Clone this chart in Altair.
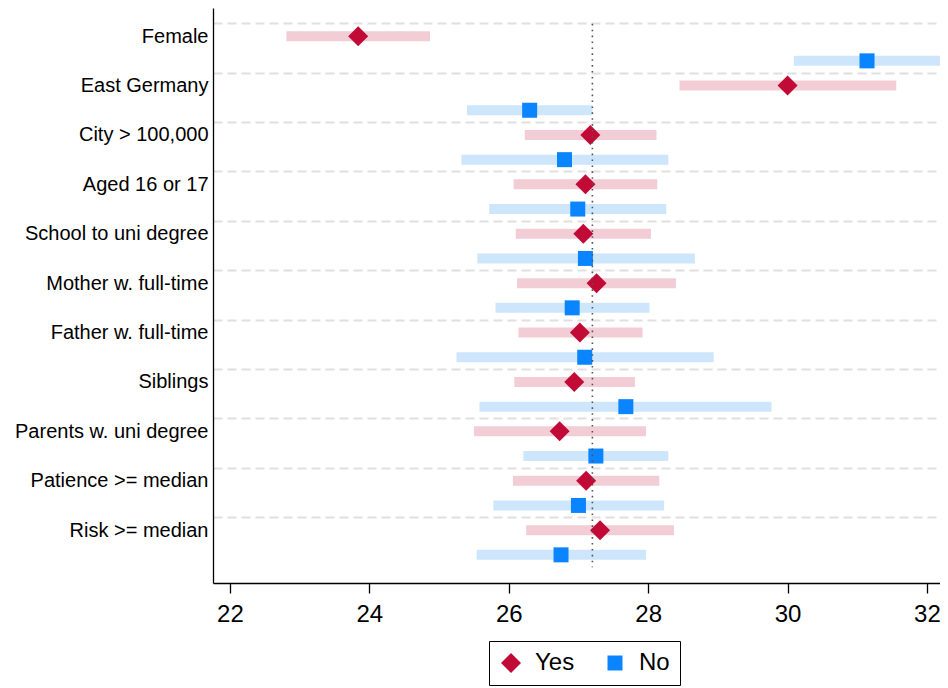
import altair as alt
import pandas as pd

categories = ["Female", "East Germany", "City > 100,000", "Aged 16 or 17",
              "School to uni degree", "Mother w. full-time", "Father w. full-time",
              "Siblings", "Parents w. uni degree", "Patience >= median", "Risk >= median"]
yes_est = [23.84, 30.00, 27.17, 27.10, 27.07, 27.26, 27.02, 26.94, 26.73, 27.11, 27.31]
yes_lo = [22.81, 28.45, 26.23, 26.07, 26.10, 26.12, 26.14, 26.08, 25.50, 26.06, 26.25]
yes_hi = [24.87, 31.56, 28.12, 28.13, 28.04, 28.40, 27.92, 27.81, 27.97, 28.16, 28.37]
no_est = [31.14, 26.30, 26.80, 26.99, 27.10, 26.91, 27.09, 27.68, 27.25, 27.00, 26.75]
no_lo = [30.09, 25.40, 25.32, 25.72, 25.55, 25.81, 25.25, 25.58, 26.21, 25.78, 25.54]
no_hi = [32.19, 27.20, 28.29, 28.26, 28.67, 28.02, 28.94, 29.77, 28.29, 28.23, 27.97]
x_ticks = [22, 24, 26, 28, 30, 32]
ref_value = 27.2

rows = []
for i, c in enumerate(categories):
    rows.append({"cat": c, "idx": i, "pos": i, "group": "Yes",
                 "est": yes_est[i], "lo": yes_lo[i], "hi": yes_hi[i]})
    rows.append({"cat": c, "idx": i, "pos": i + 0.5, "group": "No",
                 "est": no_est[i], "lo": no_lo[i], "hi": no_hi[i]})
df = pd.DataFrame(rows)
ref = pd.DataFrame({"x": [ref_value], "y": [-0.25], "y2": [len(categories) - 0.25]})

FONT = "Liberation Sans"
xscale = alt.Scale(domain=[21.757, 32.187], nice=False, zero=False)
yscale = alt.Scale(domain=[-0.57, 11.07], nice=False, zero=False, reverse=True)

label_expr = "[" + ",".join("'" + c + "'" for c in categories) + "][datum.value]"

x_axis = alt.Axis(values=x_ticks, format="d", title=None, grid=False, labelFontSize=24,
                  labelFont=FONT, labelColor="black", tickSize=10, tickColor="black",
                  tickWidth=1.3, domainColor="black", domainWidth=1.3, labelPadding=9,
                  labelFlush=False)
y_axis = alt.Axis(values=list(range(len(categories))), labelExpr=label_expr, title=None,
                  ticks=False, grid=True, gridColor="#e0e0e0", gridWidth=2.2,
                  gridDash=[9, 5], tickOffset=-13, labelOffset=13, labelFontSize=20,
                  labelFont=FONT, labelColor="black", labelPadding=5,
                  domainColor="black", domainWidth=1.3, labelLimit=300)

bars = alt.Chart(df).mark_rule(strokeWidth=10, strokeCap="butt").encode(
    x=alt.X("lo:Q", scale=xscale, axis=x_axis),
    x2="hi:Q",
    y=alt.Y("pos:Q", scale=yscale, axis=y_axis),
    color=alt.condition(alt.datum.group == "Yes", alt.value("#f2cdd6"), alt.value("#cde6fc")),
)

leg = dict(title=None, orient="none", legendX=276, legendY=633,
           direction="horizontal", labelFontSize=24, labelFont=FONT, labelColor="black",
           strokeColor="black", padding=10, labelOffset=12, columnPadding=28,
           symbolStrokeWidth=0, fillColor="white", symbolOpacity=1)

points = alt.Chart(df).mark_point(filled=True, opacity=1, strokeWidth=0).encode(
    x=alt.X("est:Q", scale=xscale),
    y=alt.Y("pos:Q", scale=yscale),
    color=alt.Color("group:N", scale=alt.Scale(domain=["Yes", "No"],
                                               range=["#c20a36", "#0a84ff"]),
                    legend=alt.Legend(**leg)),
    shape=alt.Shape("group:N", scale=alt.Scale(domain=["Yes", "No"],
                                               range=["diamond", "square"]),
                    legend=alt.Legend(**leg)),
    size=alt.Size("group:N", scale=alt.Scale(domain=["Yes", "No"], range=[400, 225]),
                  legend=alt.Legend(**leg)),
)

rule = alt.Chart(ref).mark_rule(color="#555555", strokeWidth=1.6, strokeDash=[1.6, 4.3]).encode(
    x=alt.X("x:Q", scale=xscale),
    y=alt.Y("y:Q", scale=yscale),
    y2="y2:Q",
)

chart = alt.layer(bars, points, rule).properties(
    width=727, height=575,
    padding={"left": 205, "top": 0, "right": 0, "bottom": 105},
    autosize=alt.AutoSizeParams(type="none"),
    background="white",
).configure_view(stroke=None)

chart.save("out.html", embed_options={"renderer": "svg", "actions": False})
